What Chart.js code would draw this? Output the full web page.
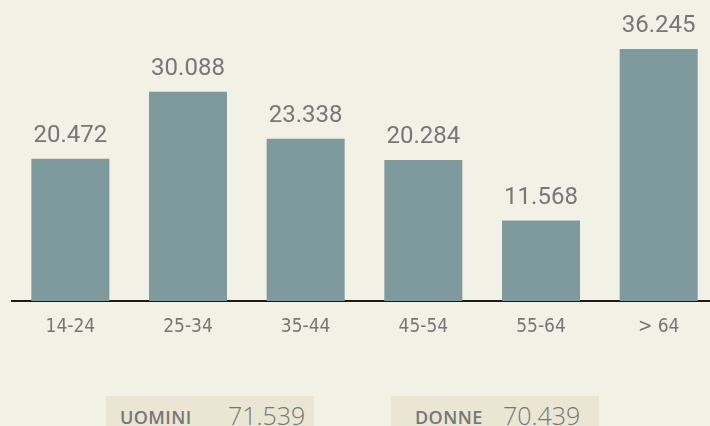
<!DOCTYPE html>
<html>
<head>
<meta charset="utf-8">
<script src="https://cdn.jsdelivr.net/npm/chart.js@4"></script>
<style>
    html, body { margin: 0; padding: 0; background: #f2f1e6; width: 710px; height: 426px; overflow: hidden; }
    #wrap { position: absolute; left: 0; top: 0; width: 730px; height: 341px; }
    .box { position: absolute; top: 396px; height: 40px; background: #ebe6d3; width: 208px; }
    .box .lab { position: absolute; top: 9px; font-family: "Open Sans", sans-serif; font-weight: 600; font-size: 18px; color: #777; letter-spacing: 0.4px; }
    .box .num { position: absolute; top: 2px; font-family: "Open Sans", sans-serif; font-weight: 300; font-size: 25px; color: #777; }
</style>
</head>
<body>
<div id="wrap"><canvas id="grafico" width="730" height="341"></canvas></div>

<div class="box" style="left:106px;"><span class="lab" style="left:14px;">UOMINI</span><span class="num" style="left:122px;">71.539</span></div>
<div class="box" style="left:391px;"><span class="lab" style="left:24px;">DONNE</span><span class="num" style="left:112px;">70.439</span></div>

<script>
// fasce d'età e residenti
const fasce = ['14-24', '25-34', '35-44', '45-54', '55-64', '> 64'];
const valori = [20.472, 30.088, 23.338, 20.284, 11.568, 36.245];
const etichette = ['20.472', '30.088', '23.338', '20.284', '11.568', '36.245'];

const grigio = '#777777';

// scrive il valore sopra ogni barra
const valoriSopra = {
    id: 'valoriSopra',
    afterDatasetsDraw(chart) {
        const c = chart.ctx;
        const meta = chart.getDatasetMeta(0);
        c.save();
        c.font = '400 24px Roboto, sans-serif';
        c.fillStyle = grigio;
        c.textAlign = 'center';
        c.textBaseline = 'alphabetic';
        meta.data.forEach((bar, i) => {
            c.fillText(etichette[i], bar.x, bar.y - 17);
        });
        c.restore();
    }
};

new Chart(document.getElementById('grafico').getContext('2d'), {
    type: 'bar',
    data: {
        labels: fasce,
        datasets: [{
            data: valori,
            backgroundColor: '#7f9a9c',
            categoryPercentage: 1,
            barPercentage: 0.663
        }]
    },
    options: {
        responsive: false,
        devicePixelRatio: 1,
        animation: false,
        layout: { padding: { left: 11.5, right: 12.5, top: 0, bottom: 0 } },
        scales: {
            x: {
                grid: { display: false, drawTicks: false },
                border: { display: true, color: '#1a1a1a', width: 2 },
                ticks: {
                    padding: 15,
                    color: grigio,
                    font: { family: '"DejaVu Sans Condensed", "Liberation Sans Narrow", sans-serif', size: 19 }
                },
                afterFit: (s) => { s.height = 40; }
            },
            y: {
                display: false,
                min: 0,
                max: 43.29
            }
        },
        plugins: {
            legend: { display: false },
            tooltip: { enabled: false }
        }
    },
    plugins: [valoriSopra]
});
</script>
</body>
</html>
